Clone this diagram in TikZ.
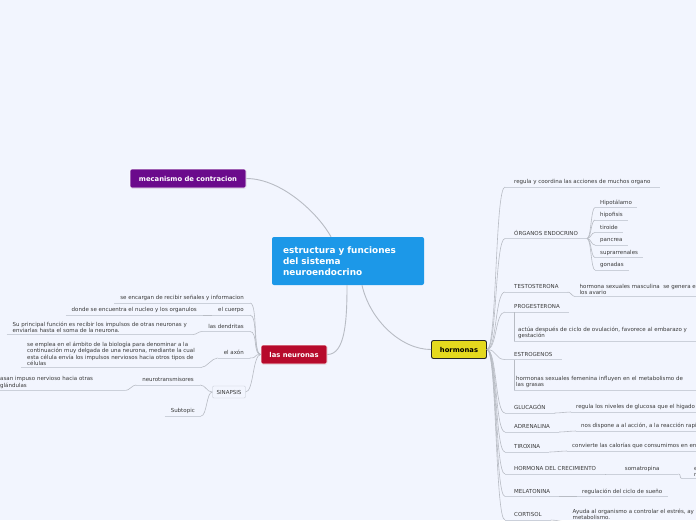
\documentclass[tikz,border=0pt]{standalone}
\usepackage{fontspec}
\setmainfont{DejaVu Sans}
\usepackage{tikz}
\usetikzlibrary{shadows}
\definecolor{MapBg}{HTML}{F2F5FE}
\definecolor{MapBlue}{HTML}{1C98E8}
\definecolor{MapPurple}{HTML}{6B0B8C}
\definecolor{MapRed}{HTML}{B70A2C}
\definecolor{MapYellow}{HTML}{E5D91E}
\definecolor{MapText}{HTML}{3A3A3A}
\definecolor{LinkGray}{HTML}{B8BCC4}
\definecolor{LineGray}{HTML}{CBD0DA}
\definecolor{BoxLine}{HTML}{C4C9D3}
\tikzset{
  centre/.style={rectangle,rounded corners=2pt,fill=MapBlue,text=white,font=\fontsize{8.9}{11}\selectfont\bfseries,text width=130pt,minimum width=152pt,minimum height=48pt,inner xsep=11pt,align=left},
  maintopic/.style={rectangle,rounded corners=2pt,draw=white,line width=0.6pt,text=white,font=\fontsize{6.8}{8}\selectfont\bfseries,minimum height=19pt,inner sep=0pt,drop shadow={opacity=0.25,shadow xshift=0.4pt,shadow yshift=-0.6pt}},
  uline/.style={draw=LineGray,line width=0.6pt},
  topic/.style={font=\fontsize{5.5}{6.2}\selectfont,text=MapText,inner ysep=2pt,append after command={(\tikzlastnode.south west) edge[uline] (\tikzlastnode.south east)}},
  rtopic/.style={topic,anchor=south west,inner xsep=9pt,text height=4.1pt,text depth=1.3pt},
  rsub/.style={topic,anchor=south west,inner xsep=5pt,text height=4.1pt,text depth=1.3pt},
  rnote/.style={topic,anchor=south west,inner xsep=4.5pt,align=left},
  ltopic/.style={topic,anchor=south east,inner xsep=6pt,text height=4.1pt,text depth=1.3pt},
  lnote/.style={topic,anchor=south east,inner xsep=6pt,align=left},
  sinbox/.style={rectangle,draw=BoxLine,fill=MapBg,rounded corners=1pt,font=\fontsize{5.5}{6.2}\selectfont,text=MapText,minimum height=12pt,inner xsep=4pt},
  link/.style={draw=LinkGray,line width=0.9pt},
  twig/.style={draw=LinkGray,line width=0.6pt},
  rbranch/.style={to path={.. controls ([xshift=#1]\tikztostart) and ([xshift=-#1]\tikztotarget) .. (\tikztotarget)}},
  rbranch/.default=10pt,
  lbranch/.style={to path={.. controls ([xshift=-#1]\tikztostart) and ([xshift=#1]\tikztotarget) .. (\tikztotarget)}},
  lbranch/.default=8pt,
}
\begin{document}
\begin{tikzpicture}[x=1pt,y=-1pt]
  \fill[MapBg] (0,0) rectangle (696,520);
  \useasboundingbox (0,0) rectangle (696,520);
  \clip (0,0) rectangle (696,520);

  % ── Main topics ──
  \node[centre] (main) at (348,261) {estructura y funciones\\del sistema\\neuroendocrino};
  \node[maintopic, fill=MapPurple, minimum width=116pt] (mec) at (188,178.5) {mecanismo de contracion};
  \node[maintopic, fill=MapRed, minimum width=66pt] (neur) at (294,354.5) {las neuronas};
  \node[maintopic, fill=MapYellow, draw=black!85, line width=0.9pt, text=black, minimum width=55pt, minimum height=18pt] (horm) at (459,349.5) {hormonas};

  % ── Neuronas (left) ──
  \node[ltopic] (senal) at (250,303) {se encargan de recibir señales y informacion};
  \node[ltopic] (cuerpo) at (250,315) {el cuerpo};
  \node[ltopic] (cuerpo1) at (203,315) {donde se encuentra el nucleo y los organulos};
  \node[ltopic] (dendr) at (250,331.5) {las dendritas};
  \node[lnote] (dendr1) at (193,334.5) {Su principal función es recibir los impulsos de otras neuronas y\\enviarlas hasta el soma de la neurona.};
  \node[ltopic] (axon) at (250,358) {el axón};
  \node[lnote] (axon1) at (201,367.5) {se emplea en el ámbito de la biología para denominar a la\\continuación muy delgada de una neurona, mediante la cual\\esta célula envía los impulsos nerviosos hacia otros tipos de\\células};
  \node[sinbox] (sinap) at (229,392) {SINAPSIS};
  \node[ltopic] (neurot) at (200,385) {neurotransmisores};
  \node[rnote, inner xsep=4pt, text width=121pt] (neurot1) at (-4,390.5) {asan impuso nervioso hacia otras\\glándulas};
  \node[ltopic] (subt) at (201,416) {Subtopic};

  % ── Hormonas (right) ──
  \node[rtopic] (regula) at (505,187) {regula y coordina las acciones de muchos organo};
  \node[rtopic] (organ) at (505,238.5) {ÓRGANOS ENDOCRINO};
  \node[rsub] (hipot) at (595,207.5) {Hipotálamo};
  \node[rsub] (hipof) at (595,220) {hipofisis};
  \node[rsub] (tiro) at (595,232.5) {tiroide};
  \node[rsub] (panc) at (595,245) {pancrea};
  \node[rsub] (supra) at (595,257.5) {suprarrenales};
  \node[rsub] (gona) at (595,270) {gonadas};
  \node[rtopic] (testo) at (505,292) {TESTOSTERONA};
  \node[rnote] (testo1) at (575,296.5) {hormona sexuales masculina\ \ se genera e\\los avario};
  \node[rtopic] (proge) at (505,312) {PROGESTERONA};
  \node[rnote, inner xsep=4pt, text width=178pt] (proge1) at (514,341) {actúa después de ciclo de ovulación, favorece al embarazo y\\gestación};
  \node[rtopic] (estro) at (505,359.5) {ESTROGENOS};
  \node[rnote, inner xsep=2pt, text width=180pt] (estro1) at (514,390) {hormonas sexuales femenina influyen en el metabolismo de\\las grasas};
  \node[rtopic] (gluc) at (505,413) {GLUCAGÓN};
  \node[rsub] (gluc1) at (571,412) {regula los niveles de glucosa que el higado};
  \node[rtopic] (adren) at (505,432) {ADRENALINA};
  \node[rsub] (adren1) at (576,431) {nos dispone a al acción, a la reacción rapi};
  \node[rtopic] (tirox) at (505,452) {TIROXINA};
  \node[rsub] (tirox1) at (567,451) {convierte las calorías que consumimos en en};
  \node[rtopic] (crec) at (505,474) {HORMONA DEL CRECIMIENTO};
  \node[rsub, minimum width=72pt] (crec1) at (606,474) {somatropina};
  \node[rnote, inner xsep=12pt] (crec2) at (682,478.5) {e\\r};
  \node[rtopic] (melat) at (505,496.5) {MELATONINA};
  \node[rsub] (melat1) at (577,496.5) {regulación del ciclo de sueño};
  \node[rtopic] (corti) at (505,520) {CORTISOL};
  \node[rnote] (corti1) at (568,522) {Ayuda al organismo a controlar el estrés, ay\\metabolismo.};

  % ── Connectors ──
  \draw[link] (mec.east) .. controls +(36,0) and +(-12,-22) .. ([xshift=-17pt]main.north);
  \draw[link] ([xshift=-1pt]main.south) .. controls +(0,35) and +(18,0) .. (neur.east);
  \draw[link] ([xshift=14pt]main.south) .. controls +(8,35) and +(-30,0) .. (horm.west);

  \draw[twig] (neur.west) to[lbranch] (senal.south east);
  \draw[twig] (neur.west) to[lbranch] (cuerpo.south east);
  \draw[twig] (neur.west) to[lbranch] (dendr.south east);
  \draw[twig] (neur.west) to[lbranch] (axon.south east);
  \draw[twig] (neur.west) to[lbranch] (sinap.east);
  \draw[twig] (cuerpo.south west) to[lbranch=4pt] (cuerpo1.south east);
  \draw[twig] (dendr.south west) to[lbranch=4pt] (dendr1.south east);
  \draw[twig] (axon.south west) to[lbranch=6pt] (axon1.south east);
  \draw[twig] (sinap.west) to[lbranch=6pt] (neurot.south east);
  \draw[twig] (sinap.west) to[lbranch=6pt] (subt.south east);
  \draw[twig] (neurot.south west) to[lbranch=4pt] (neurot1.south east);

  \draw[twig] (horm.east) to[rbranch] (regula.south west);
  \draw[twig] (horm.east) to[rbranch] (organ.south west);
  \draw[twig] (horm.east) to[rbranch] (testo.south west);
  \draw[twig] (horm.east) to[rbranch] (proge.south west);
  \draw[twig] (horm.east) to[rbranch] (estro.south west);
  \draw[twig] (horm.east) to[rbranch] (gluc.south west);
  \draw[twig] (horm.east) to[rbranch] (adren.south west);
  \draw[twig] (horm.east) to[rbranch] (tirox.south west);
  \draw[twig] (horm.east) to[rbranch] (crec.south west);
  \draw[twig] (horm.east) to[rbranch] (melat.south west);
  \draw[twig] (horm.east) to[rbranch] (corti.south west);
  \draw[twig] (organ.south east) to[rbranch=4pt] (hipot.south west);
  \draw[twig] (organ.south east) to[rbranch=4pt] (hipof.south west);
  \draw[twig] (organ.south east) to[rbranch=4pt] (tiro.south west);
  \draw[twig] (organ.south east) to[rbranch=4pt] (panc.south west);
  \draw[twig] (organ.south east) to[rbranch=4pt] (supra.south west);
  \draw[twig] (organ.south east) to[rbranch=4pt] (gona.south west);
  \draw[twig] (testo.south east) to[rbranch=3pt] (testo1.south west);
  \draw[twig] (proge1.south west) -- (proge1.south west |- proge.south);
  \draw[twig] (estro1.south west) -- (estro1.south west |- estro.south);
  \draw[twig] (gluc.south east) to[rbranch=5pt] (gluc1.south west);
  \draw[twig] (adren.south east) to[rbranch=5pt] (adren1.south west);
  \draw[twig] (tirox.south east) to[rbranch=5pt] (tirox1.south west);
  \draw[twig] (crec.south east) to[rbranch=3pt] (crec1.south west);
  \draw[twig] (crec1.south east) to[rbranch=3pt] (crec2.south west);
  \draw[twig] (melat.south east) to[rbranch=5pt] (melat1.south west);
  \draw[twig] (corti.south east) to[rbranch=5pt] (corti1.south west);
\end{tikzpicture}
\end{document}
